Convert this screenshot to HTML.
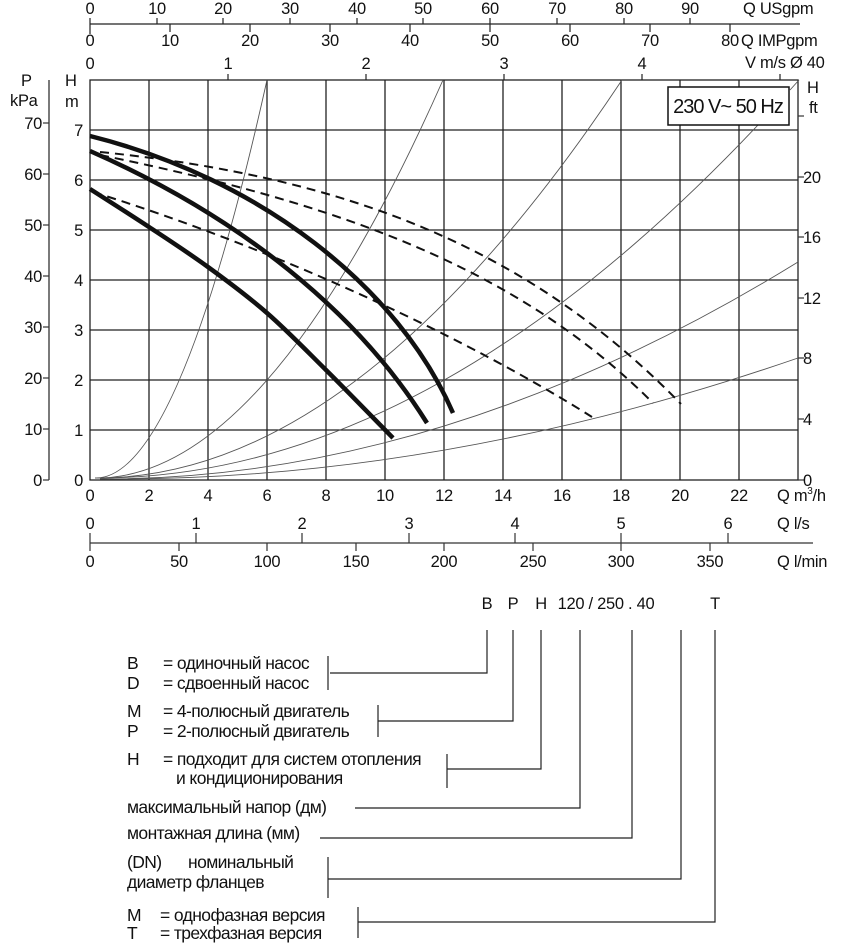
<!DOCTYPE html>
<html><head><meta charset="utf-8"><style>
html,body{margin:0;padding:0;background:#fff}
svg{display:block}
text{font-family:"Liberation Sans",sans-serif;fill:#111}
</style></head><body>
<svg width="845" height="950" viewBox="0 0 845 950" xmlns="http://www.w3.org/2000/svg">
<g font-size="16.5" letter-spacing="-0.3">
<!-- top axes -->
<line x1="90" y1="24" x2="800" y2="24" stroke="#222" stroke-width="1.3"/>
<g stroke="#222" stroke-width="1.2">
<line x1="90" y1="18" x2="90" y2="34"/>
<line x1="157" y1="18" x2="157" y2="24"/><line x1="223" y1="18" x2="223" y2="24"/><line x1="290" y1="18" x2="290" y2="24"/><line x1="357" y1="18" x2="357" y2="24"/><line x1="423" y1="18" x2="423" y2="24"/><line x1="490" y1="18" x2="490" y2="24"/><line x1="557" y1="18" x2="557" y2="24"/><line x1="624" y1="18" x2="624" y2="24"/><line x1="690" y1="18" x2="690" y2="24"/>
<line x1="170" y1="24" x2="170" y2="32"/><line x1="250" y1="24" x2="250" y2="32"/><line x1="330" y1="24" x2="330" y2="32"/><line x1="410" y1="24" x2="410" y2="32"/><line x1="490" y1="24" x2="490" y2="32"/><line x1="570" y1="24" x2="570" y2="32"/><line x1="650" y1="24" x2="650" y2="32"/><line x1="730" y1="24" x2="730" y2="32"/>
<line x1="228" y1="74" x2="228" y2="80"/><line x1="366" y1="74" x2="366" y2="80"/><line x1="504" y1="74" x2="504" y2="80"/><line x1="642" y1="74" x2="642" y2="80"/><line x1="780" y1="74" x2="780" y2="80"/>
</g>
<g text-anchor="middle">
<text x="90" y="14">0</text><text x="157" y="14">10</text><text x="223" y="14">20</text><text x="290" y="14">30</text><text x="357" y="14">40</text><text x="423" y="14">50</text><text x="490" y="14">60</text><text x="557" y="14">70</text><text x="624" y="14">80</text><text x="690" y="14">90</text>
<text x="90" y="46">0</text><text x="170" y="46">10</text><text x="250" y="46">20</text><text x="330" y="46">30</text><text x="410" y="46">40</text><text x="490" y="46">50</text><text x="570" y="46">60</text><text x="650" y="46">70</text><text x="730" y="46">80</text>
<text x="90" y="69">0</text><text x="228" y="69">1</text><text x="366" y="69">2</text><text x="504" y="69">3</text><text x="642" y="69">4</text>
</g>
<text x="743" y="14">Q USgpm</text>
<text x="741" y="46">Q IMPgpm</text>
<text x="745" y="68">V m/s Ø 40</text>

<!-- grid -->
<g stroke="#222" stroke-width="1.3" fill="none">
<rect x="90" y="80" width="708" height="400"/>
<line x1="149" y1="80" x2="149" y2="480"/><line x1="208" y1="80" x2="208" y2="480"/><line x1="267" y1="80" x2="267" y2="480"/><line x1="326" y1="80" x2="326" y2="480"/><line x1="385" y1="80" x2="385" y2="480"/><line x1="444" y1="80" x2="444" y2="480"/><line x1="503" y1="80" x2="503" y2="480"/><line x1="562" y1="80" x2="562" y2="480"/><line x1="621" y1="80" x2="621" y2="480"/><line x1="680" y1="80" x2="680" y2="480"/><line x1="739" y1="80" x2="739" y2="480"/>
<line x1="90" y1="130" x2="798" y2="130"/><line x1="90" y1="180" x2="798" y2="180"/><line x1="90" y1="230" x2="798" y2="230"/><line x1="90" y1="280" x2="798" y2="280"/><line x1="90" y1="330" x2="798" y2="330"/><line x1="90" y1="380" x2="798" y2="380"/><line x1="90" y1="430" x2="798" y2="430"/>
</g>

<!-- system curves -->
<g stroke="#555" stroke-width="0.9" fill="none">
<path d="M95,478 Q178,480 267,80"/>
<path d="M95,478 Q266,480 443,80"/>
<path d="M95,478 Q356,480 622,80"/>
<path d="M95,478 Q423,480 758,125"/>
<path d="M790,90 L799,80"/>
<path d="M100,479 Q444,480 798,262"/>
<path d="M110,479 Q444,480 798,358"/>
</g>

<!-- pump curves -->
<g stroke="#111" stroke-width="4.5" fill="none">
<path d="M90,136 C260,178.5 398,286.5 453,413"/>
<path d="M90,151 C240,217 357,311 427,423"/>
<path d="M90,189 C99.8,195.3 129.3,214 149,227 C168.7,240 188.3,252.7 208,267 C227.7,281.3 247.3,295.8 267,313 C286.7,330.2 305,349.2 326,370 C347,390.8 381.8,426.7 393,438"/>
</g>
<g stroke="#111" stroke-width="2" fill="none" stroke-dasharray="9,6">
<path d="M100,152 C350,177 531,250 681,404"/>
<path d="M100,155 C320,200 510,260 653,403"/>
<path d="M93,192 C280,250 470,340 592,417"/>
</g>

<!-- box -->
<rect x="668" y="87" width="121" height="38" fill="#fff" stroke="#111" stroke-width="1.5"/>
<text x="728" y="113" text-anchor="middle" font-size="20" letter-spacing="-1">230 V~ 50 Hz</text>

<!-- left axes -->
<line x1="49" y1="80" x2="49" y2="480" stroke="#333" stroke-width="1.3"/>
<g stroke="#333" stroke-width="1.2">
<line x1="43" y1="480" x2="49" y2="480"/><line x1="43" y1="429" x2="49" y2="429"/><line x1="43" y1="378" x2="49" y2="378"/><line x1="43" y1="327" x2="49" y2="327"/><line x1="43" y1="276" x2="49" y2="276"/><line x1="43" y1="225" x2="49" y2="225"/><line x1="43" y1="174" x2="49" y2="174"/><line x1="43" y1="123" x2="49" y2="123"/>
</g>
<g text-anchor="end">
<text x="42" y="486">0</text><text x="42" y="435">10</text><text x="42" y="384">20</text><text x="42" y="333">30</text><text x="42" y="282">40</text><text x="42" y="231">50</text><text x="42" y="180">60</text><text x="42" y="129">70</text>
<text x="83" y="486">0</text><text x="83" y="436">1</text><text x="83" y="386">2</text><text x="83" y="336">3</text><text x="83" y="286">4</text><text x="83" y="236">5</text><text x="83" y="186">6</text><text x="83" y="136">7</text>
</g>
<text x="21" y="86">P</text><text x="10" y="106">kPa</text>
<text x="65" y="86">H</text><text x="65" y="107">m</text>

<!-- right axis -->
<g stroke="#333" stroke-width="1.2">
<line x1="798" y1="480" x2="804" y2="480"/><line x1="798" y1="419" x2="804" y2="419"/><line x1="798" y1="358" x2="804" y2="358"/><line x1="798" y1="298" x2="804" y2="298"/><line x1="798" y1="237" x2="804" y2="237"/><line x1="798" y1="177" x2="804" y2="177"/><line x1="798" y1="116" x2="804" y2="116"/>
</g>
<text x="803" y="486">0</text><text x="803" y="425">4</text><text x="803" y="364">8</text><text x="803" y="304">12</text><text x="803" y="243">16</text><text x="803" y="183">20</text>
<text x="807" y="93">H</text><text x="809" y="113">ft</text>

<!-- bottom x labels -->
<g text-anchor="middle">
<text x="90" y="501">0</text><text x="149" y="501">2</text><text x="208" y="501">4</text><text x="267" y="501">6</text><text x="326" y="501">8</text><text x="385" y="501">10</text><text x="444" y="501">12</text><text x="503" y="501">14</text><text x="562" y="501">16</text><text x="621" y="501">18</text><text x="680" y="501">20</text><text x="739" y="501">22</text>
</g>
<text x="777" y="501">Q m<tspan font-size="10" dy="-7">3</tspan><tspan dy="7">/h</tspan></text>

<!-- l/s & l/min -->
<line x1="90" y1="543" x2="813" y2="543" stroke="#333" stroke-width="1.3"/>
<g stroke="#333" stroke-width="1.2">
<line x1="90" y1="533" x2="90" y2="551"/>
<line x1="196" y1="533" x2="196" y2="543"/><line x1="302" y1="533" x2="302" y2="543"/><line x1="409" y1="533" x2="409" y2="543"/><line x1="515" y1="533" x2="515" y2="543"/><line x1="621" y1="533" x2="621" y2="551"/><line x1="728" y1="533" x2="728" y2="543"/>
<line x1="179" y1="543" x2="179" y2="551"/><line x1="267" y1="543" x2="267" y2="551"/><line x1="356" y1="543" x2="356" y2="551"/><line x1="444" y1="543" x2="444" y2="551"/><line x1="533" y1="543" x2="533" y2="551"/><line x1="710" y1="543" x2="710" y2="551"/>
</g>
<g text-anchor="middle">
<text x="90" y="529">0</text><text x="196" y="529">1</text><text x="302" y="529">2</text><text x="409" y="529">3</text><text x="515" y="529">4</text><text x="621" y="529">5</text><text x="728" y="529">6</text>
<text x="90" y="567">0</text><text x="179" y="567">50</text><text x="267" y="567">100</text><text x="356" y="567">150</text><text x="444" y="567">200</text><text x="533" y="567">250</text><text x="621" y="567">300</text><text x="710" y="567">350</text>
</g>
<text x="777" y="529">Q l/s</text>
<text x="777" y="567">Q l/min</text>

<!-- legend header -->
<g text-anchor="middle">
<text x="487" y="609">B</text><text x="513" y="609">P</text><text x="541" y="609">H</text><text x="606" y="609">120 / 250 . 40</text><text x="715" y="609">T</text>
</g>
<g stroke="#222" stroke-width="1.2" fill="none">
<path d="M487,630 V673 H330"/><line x1="328" y1="656" x2="328" y2="690"/>
<path d="M513,630 V721 H378"/><line x1="378" y1="705" x2="378" y2="737"/>
<path d="M541,630 V769 H447"/><line x1="447" y1="754" x2="447" y2="788"/>
<path d="M580,630 V808 H355"/>
<path d="M632,630 V838 H320"/>
<path d="M681,630 V879 H328"/><line x1="328" y1="857" x2="328" y2="898"/>
<path d="M715,630 V922 H358"/><line x1="358" y1="907" x2="358" y2="938"/>
</g>
<g font-size="17.5" letter-spacing="-0.6">
<text x="127" y="669">B</text><text x="163" y="669">= одиночный насос</text>
<text x="127" y="689">D</text><text x="163" y="689">= сдвоенный насос</text>
<text x="127" y="717">M</text><text x="163" y="717">= 4-полюсный двигатель</text>
<text x="127" y="737">P</text><text x="163" y="737">= 2-полюсный двигатель</text>
<text x="127" y="765">H</text><text x="163" y="765">= подходит для систем отопления</text>
<text x="176" y="784">и кондиционирования</text>
<text x="127" y="813">максимальный напор (дм)</text>
<text x="127" y="839">монтажная длина (мм)</text>
<text x="127" y="868">(DN)</text><text x="188" y="868">номинальный</text>
<text x="127" y="888">диаметр фланцев</text>
<text x="127" y="921">M</text><text x="160" y="921">= однофазная версия</text>
<text x="127" y="939">T</text><text x="160" y="939">= трехфазная версия</text>
</g>
</g>
</svg>
</body></html>
